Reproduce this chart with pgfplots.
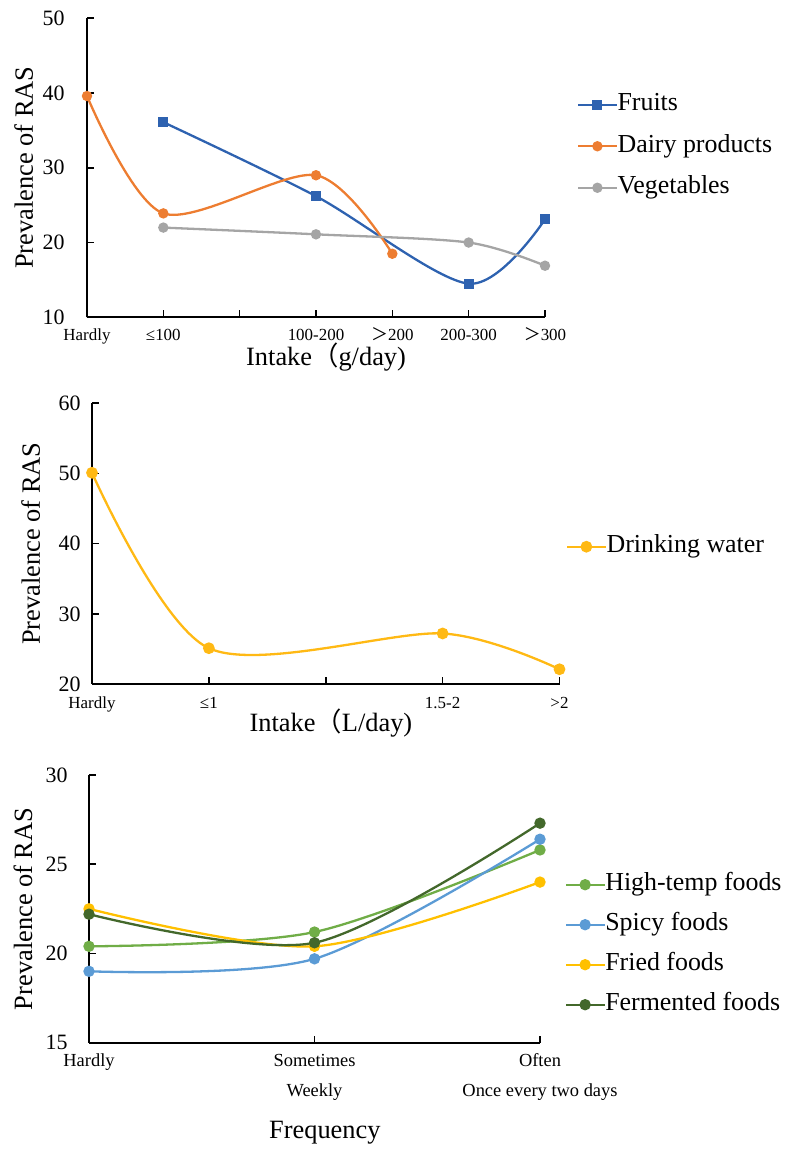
\documentclass[border=0pt]{standalone}
\usepackage{fontspec}
\setmainfont{Liberation Serif}
\newfontfamily\cjk{Noto Sans CJK SC}
\usepackage{pgfplots}
\pgfplotsset{compat=1.18}
\definecolor{cFruit}{HTML}{2E62B0}
\definecolor{cDairy}{HTML}{ED7D31}
\definecolor{cVeg}{HTML}{A5A5A5}
\definecolor{cWater}{HTML}{FFB914}
\definecolor{cHigh}{HTML}{70AD47}
\definecolor{cSpicy}{HTML}{5B9BD5}
\definecolor{cFried}{HTML}{FFC000}
\definecolor{cFerm}{HTML}{43682B}
\pgfplotsset{
  base/.style={
    scale only axis,
    anchor=south west,
    axis lines=left,
    axis line style={-, line width=1.6bp, black},
    tick align=inside,
    major tick length=7bp,
    every tick/.style={black, line width=1.6bp},
    /pgf/number format/assume math mode=true,
    yticklabel style={font=\fontsize{22}{26}\selectfont},
    xticklabel style={font=\fontsize{17}{20}\selectfont, anchor=base},
    every axis x label/.style={font=\fontsize{26.5}{30}\selectfont, anchor=center},
    every axis y label/.style={font=\fontsize{26.5}{30}\selectfont, anchor=center, rotate=90},
    legend cell align=left,
    legend style={draw=none, fill=none, inner sep=0pt, anchor=west,
      font=\fontsize{26}{30}\selectfont,
      nodes={inner sep=0pt, text height=18bp, text depth=6bp}},
    legend image code/.code={\draw[mark repeat=2,mark phase=2] plot coordinates {(0bp,0bp) (19bp,0bp) (38bp,0bp)};},
    clip=false,
  },
  ser/.style={color=#1, line width=2.3bp, smooth, tension=0.5, mark=*, mark options={solid, fill=#1, draw=#1, scale=1}},
}
\begin{document}
\begin{tikzpicture}
\useasboundingbox (0,0) rectangle (800bp,1167bp);
% ---------------- top
\begin{axis}[base, at={(87bp,849.7bp)}, width=458bp, height=299bp,
  xmin=0, xmax=6, ymin=10, ymax=50, ytick={10,20,30,40,50},
  xtick={0,1,2,3,4,5,6},
  xticklabels={Hardly,{≤100},{},100-200,{{\cjk ＞}200},200-300,{{\cjk ＞}300}},
  xticklabel style={yshift=-23.4bp},
  yticklabel style={xshift=-19bp},
  xlabel={Intake{\cjk （}g/day)},
  xlabel style={at={(axis description cs:0.522,-0.134)}},
  ylabel={Prevalence of RAS},
  ylabel style={at={(axis description cs:-0.1384,0.5)}},
  legend style={at={(axis description cs:1.07,0.572)}, row sep=17.5bp},
  mark size=4bp]
\addplot[ser=cFruit, mark=square*, mark size=3.8bp] coordinates {(1,36.1) (3,26.2) (5,14.5) (6,23.1)};
\addlegendentry{Fruits}
\addplot[ser=cDairy] coordinates {(0,39.6) (1,23.9) (3,29.0) (4,18.5)};
\addlegendentry{Dairy products}
\addplot[ser=cVeg] coordinates {(1,22.0) (3,21.1) (5,20.0) (6,16.9)};
\addlegendentry{Vegetables}
\end{axis}
% ---------------- middle
\begin{axis}[base, at={(92bp,483bp)}, width=467.5bp, height=280.7bp,
  xmin=0, xmax=4, ymin=20, ymax=60, ytick={20,30,40,50,60},
  xtick={0,1,2,3,4},
  xticklabels={Hardly,{≤1},{},1.5-2,{>2}},
  xticklabel style={yshift=-24.3bp},
  yticklabel style={xshift=-8bp},
  xlabel={Intake{\cjk （}L/day)},
  xlabel style={at={(axis description cs:0.511,-0.139)}},
  ylabel={Prevalence of RAS},
  ylabel style={at={(axis description cs:-0.1313,0.5)}},
  legend style={at={(axis description cs:1.014,0.489)}},
  mark size=4.7bp]
\addplot[ser=cWater] coordinates {(0,50.1) (1,25.1) (3,27.2) (4,22.1)};
\addlegendentry{Drinking water}
\end{axis}
% ---------------- bottom
\begin{axis}[base, at={(89bp,124.3bp)}, width=451bp, height=267.7bp,
  xmin=0, xmax=2, ymin=15, ymax=30, ytick={15,20,25,30},
  xtick={0,1,2},
  xticklabels={{Hardly\\\mbox{}},{Sometimes\\Weekly},{Often\\Once every two days}},
  xticklabel style={yshift=-54bp, align=center, font=\fontsize{18.5}{30}\selectfont},
  yticklabel style={xshift=-18bp},
  xlabel={Frequency},
  xlabel style={at={(axis description cs:0.523,-0.337)}},
  ylabel={Prevalence of RAS},
  ylabel style={at={(axis description cs:-0.1463,0.5)}},
  legend style={at={(axis description cs:1.055,0.366)}, row sep=16bp},
  mark size=4.5bp]
\addplot[ser=cHigh] coordinates {(0,20.4) (1,21.2) (2,25.8)};
\addlegendentry{High-temp foods}
\addplot[ser=cSpicy] coordinates {(0,19.0) (1,19.7) (2,26.4)};
\addlegendentry{Spicy foods}
\addplot[ser=cFried] coordinates {(0,22.5) (1,20.4) (2,24.0)};
\addlegendentry{Fried foods}
\addplot[ser=cFerm] coordinates {(0,22.2) (1,20.6) (2,27.3)};
\addlegendentry{Fermented foods}
\end{axis}
\end{tikzpicture}
\end{document}
